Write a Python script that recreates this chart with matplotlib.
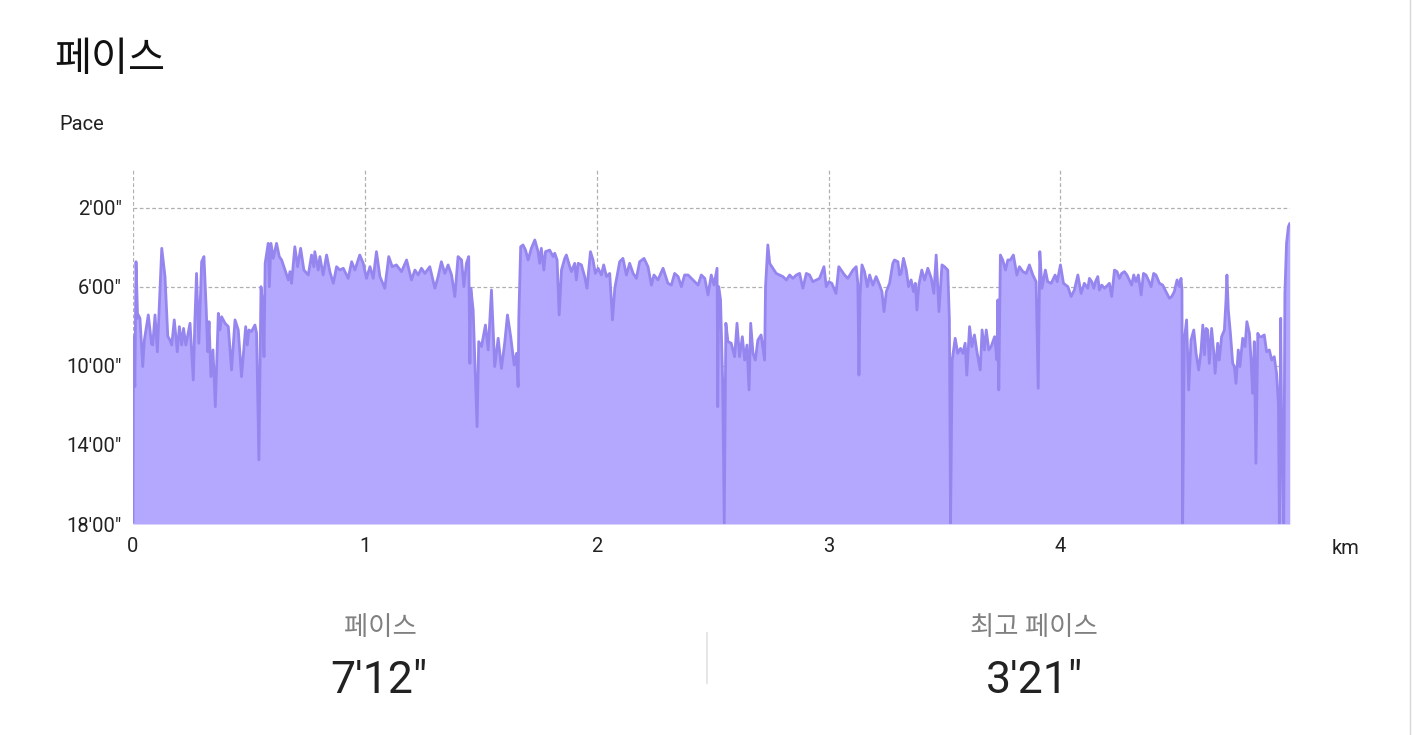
import matplotlib
matplotlib.use("Agg")
import matplotlib.pyplot as plt
from matplotlib.lines import Line2D

plt.rcParams['font.family'] = ['Roboto', 'Noto Sans CJK KR', 'DejaVu Sans']

# ---- data: distance (km) and pace (minutes per km) ----
dist_km = [
    0.000, 0.002, 0.008, 0.013, 0.020, 0.023, 0.030, 0.042, 0.049, 0.066, 0.080, 0.085, 0.095, 0.105, 0.124, 0.138,
    0.150, 0.159, 0.167, 0.178, 0.191, 0.200, 0.210, 0.218, 0.228, 0.246, 0.260, 0.267, 0.274, 0.284, 0.296, 0.306,
    0.316, 0.322, 0.328, 0.336, 0.345, 0.355, 0.368, 0.375, 0.382, 0.397, 0.411, 0.425, 0.440, 0.454, 0.468, 0.486,
    0.493, 0.500, 0.511, 0.526, 0.533, 0.543, 0.552, 0.557, 0.565, 0.570, 0.583, 0.588, 0.595, 0.605, 0.619, 0.631,
    0.641, 0.670, 0.677, 0.684, 0.698, 0.710, 0.723, 0.737, 0.756, 0.770, 0.780,
    0.784, 0.799, 0.806, 0.820, 0.835, 0.849, 0.864, 0.878, 0.892, 0.907, 0.928, 0.943, 0.957, 0.978, 0.993, 1.007,
    1.022, 1.036, 1.050, 1.065, 1.086, 1.103, 1.118, 1.136, 1.158, 1.180, 1.201, 1.216, 1.230, 1.244, 1.259, 1.280,
    1.302, 1.316, 1.330, 1.345, 1.359, 1.374, 1.388, 1.402, 1.417, 1.427, 1.438, 1.448, 1.453, 1.457, 1.467, 1.477,
    1.484, 1.491, 1.503, 1.520, 1.532, 1.546, 1.560, 1.575, 1.589, 1.603, 1.615, 1.629, 1.644,
    1.654, 1.661, 1.664, 1.672, 1.682, 1.693, 1.704, 1.718, 1.733, 1.747, 1.754, 1.761, 1.772, 1.779, 1.797, 1.812,
    1.819, 1.829, 1.838, 1.848, 1.862, 1.869, 1.884, 1.891, 1.905, 1.912, 1.920, 1.934, 1.948, 1.958, 1.973, 1.984,
    1.994, 2.006, 2.020, 2.030, 2.042, 2.056, 2.068, 2.078, 2.099, 2.113, 2.128, 2.142, 2.157, 2.171, 2.185, 2.204,
    2.221, 2.236, 2.247, 2.264, 2.286, 2.307, 2.322, 2.336, 2.351, 2.365, 2.379, 2.394, 2.415, 2.437, 2.451, 2.466,
    2.480, 2.494, 2.506, 2.519, 2.522, 2.526, 2.534, 2.543, 2.550, 2.557, 2.566, 2.580, 2.595, 2.605, 2.616, 2.628,
    2.638, 2.648, 2.657, 2.664, 2.674, 2.684, 2.695, 2.709, 2.724, 2.728, 2.738, 2.746, 2.760, 2.774, 2.789, 2.803,
    2.818, 2.832, 2.846, 2.861, 2.875, 2.889, 2.904, 2.918, 2.932, 2.947, 2.961, 2.980, 2.990, 3.001, 3.014, 3.032,
    3.044, 3.054, 3.069, 3.083, 3.105, 3.119, 3.126, 3.131, 3.136, 3.144, 3.155, 3.167, 3.177, 3.191, 3.205, 3.220,
    3.230, 3.239, 3.249, 3.263, 3.277, 3.284,
    3.299, 3.306, 3.313, 3.323, 3.335, 3.345, 3.356, 3.366, 3.374, 3.381, 3.389, 3.402, 3.414, 3.428, 3.443, 3.454,
    3.464, 3.476, 3.489, 3.500, 3.514, 3.521, 3.526, 3.533, 3.546, 3.557, 3.569, 3.579, 3.589, 3.596, 3.608, 3.618,
    3.629, 3.641, 3.654, 3.662, 3.672, 3.680, 3.691, 3.701, 3.716, 3.726, 3.730, 3.734, 3.741, 3.751, 3.763, 3.773,
    3.784, 3.797, 3.812, 3.823, 3.838, 3.852, 3.866, 3.881, 3.895, 3.904, 3.911, 3.920, 3.935, 3.945, 3.960, 3.977,
    3.986, 4.000, 4.013, 4.032, 4.046, 4.060, 4.075, 4.089, 4.103,
    4.118, 4.125, 4.135, 4.144, 4.151, 4.161, 4.168, 4.178, 4.190, 4.204, 4.211, 4.221, 4.233, 4.244, 4.254, 4.264,
    4.276, 4.287, 4.297, 4.307, 4.316, 4.326, 4.336, 4.348, 4.358, 4.369, 4.379, 4.391, 4.402, 4.412, 4.427, 4.441,
    4.455, 4.470, 4.480, 4.491, 4.503, 4.513, 4.520, 4.524, 4.527, 4.534, 4.544, 4.553, 4.563, 4.575, 4.585, 4.596,
    4.606, 4.614, 4.621, 4.628, 4.635, 4.642, 4.652, 4.661, 4.667, 4.678, 4.685, 4.695, 4.707, 4.714, 4.718, 4.724,
    4.733, 4.743, 4.750, 4.757, 4.767, 4.774, 4.786, 4.796, 4.804, 4.815, 4.822, 4.829, 4.836, 4.843, 4.851, 4.858,
    4.868, 4.879, 4.889, 4.901, 4.911, 4.922, 4.932, 4.940, 4.944, 4.950, 4.955, 4.963, 4.968, 4.975, 4.983, 4.989,
]
pace_min = [
    17.90, 8.53, 11.05, 4.74, 7.60, 7.43, 7.60, 10.04, 8.70, 7.43, 8.90, 8.95, 7.43, 9.29, 4.06, 5.49,
    8.50, 8.70, 8.95, 7.68, 9.29, 8.02, 8.95, 8.11, 8.95, 7.85, 10.72, 7.68, 5.33, 8.86, 4.74, 4.48,
    7.18, 9.29, 7.77, 10.55, 9.20, 12.07, 7.35, 8.19, 7.52, 7.85, 8.02, 10.21, 7.68, 8.19, 10.55, 8.02,
    8.95, 8.19, 8.27, 7.94, 8.36, 14.76, 6.00, 6.59, 9.54, 4.82, 3.81, 6.00, 3.81, 4.57, 3.81, 4.48,
    4.65, 5.66, 5.24, 5.83, 3.98, 4.99, 4.06, 5.16, 5.41, 4.40, 4.99,
    4.23, 5.16, 4.48, 5.41, 4.40, 5.24, 5.83, 4.99, 5.16, 5.07, 5.58, 4.74, 5.16, 4.40, 4.82, 5.58,
    4.99, 5.58, 4.23, 5.49, 6.08, 4.48, 4.99, 4.90, 5.24, 4.65, 5.66, 5.16, 5.41, 5.07, 5.33, 4.99,
    6.08, 5.49, 4.74, 5.33, 4.90, 5.41, 6.50, 4.48, 4.65, 6.00, 4.82, 4.48, 9.88, 6.08, 7.18, 10.72,
    13.08, 8.78, 9.03, 7.94, 9.20, 6.17, 10.04, 8.61, 10.13, 8.86, 7.43, 8.53, 9.96,
    9.37, 11.05, 7.52, 3.98, 3.89, 4.15, 4.65, 4.06, 3.64, 4.23, 4.82, 4.06, 5.16, 4.23, 4.15, 4.48,
    4.31, 4.65, 7.43, 5.16, 4.57, 4.40, 4.99, 5.24, 4.82, 5.66, 4.82, 4.90, 5.49, 6.08, 4.23, 4.65,
    5.33, 5.07, 5.41, 4.90, 5.49, 5.33, 7.68, 6.08, 4.74, 4.57, 5.41, 4.82, 5.33, 5.58, 4.74, 4.57,
    4.99, 5.92, 5.41, 5.66, 5.07, 5.83, 5.92, 5.33, 5.49, 6.00, 5.41, 5.41, 5.66, 5.92, 5.41, 5.58,
    6.42, 5.41, 5.92, 5.07, 12.07, 6.00, 6.67, 10.72, 17.96, 7.85, 8.78, 8.86, 9.54, 7.85, 9.54, 8.53,
    9.71, 8.95, 11.22, 7.85, 9.37, 9.71, 8.70, 8.44, 9.71, 6.00, 3.89, 4.82, 5.07, 5.33, 5.41, 5.49,
    5.66, 5.41, 5.58, 5.41, 5.33, 6.08, 5.33, 5.41, 5.75, 5.66, 5.58, 4.99, 6.00, 5.75, 5.83, 6.34,
    4.99, 5.16, 5.41, 5.58, 5.16, 4.99, 5.83, 10.47, 6.34, 4.90, 5.24, 6.00, 5.41, 5.92, 5.49, 5.92,
    6.25, 7.26, 6.25, 5.83, 4.82, 4.65,
    4.74, 5.41, 5.33, 4.57, 5.16, 6.00, 5.66, 6.25, 5.83, 7.18, 5.92, 5.16, 5.66, 5.07, 5.58, 6.34,
    4.40, 7.26, 4.90, 4.99, 5.16, 7.68, 17.96, 9.71, 8.61, 9.37, 9.12, 9.37, 8.86, 10.47, 8.02, 9.03,
    8.44, 9.37, 10.21, 8.19, 9.20, 8.19, 9.20, 9.03, 8.53, 9.71, 6.67, 11.22, 4.40, 4.65, 5.16, 4.65,
    4.65, 4.40, 5.41, 4.99, 5.24, 5.33, 4.90, 5.41, 5.75, 11.14, 4.23, 6.08, 5.16, 5.75, 5.83, 5.41,
    5.75, 4.90, 5.83, 6.00, 6.50, 6.17, 5.41, 6.34, 5.83,
    6.08, 5.58, 5.75, 6.08, 5.75, 5.49, 6.17, 5.92, 6.08, 5.92, 5.83, 6.50, 5.16, 5.24, 5.58, 5.33,
    5.24, 5.41, 5.66, 5.92, 5.41, 5.75, 5.41, 6.42, 5.33, 5.41, 5.66, 6.00, 5.33, 5.41, 5.83, 5.92,
    6.25, 6.59, 6.50, 6.25, 5.66, 6.00, 5.58, 6.17, 17.96, 8.70, 7.68, 11.22, 8.70, 8.19, 9.37, 10.21,
    9.29, 7.94, 9.45, 8.11, 8.19, 9.88, 8.11, 9.29, 10.38, 8.86, 9.71, 8.53, 8.19, 6.67, 5.41, 7.18,
    8.36, 9.88, 10.04, 10.89, 9.20, 10.04, 8.61, 9.03, 7.77, 8.36, 9.71, 11.39, 8.78, 14.93, 8.36, 8.53,
    8.53, 8.44, 9.29, 9.20, 9.71, 9.54, 10.38, 11.90, 17.96, 7.60, 14.43, 17.96, 6.34, 3.81, 2.97, 2.80,
]

y_ticks = [2, 6, 10, 14, 18]
y_tick_labels = ["2'00\"", "6'00\"", "10'00\"", "14'00\"", "18'00\""]
x_ticks = [0, 1, 2, 3, 4]
x_tick_labels = ["0", "1", "2", "3", "4"]

title = "페이스"
stat_labels = ["페이스", "최고 페이스"]
stat_values = ["7'12\"", "3'21\""]

W, H = 1414, 735
fig = plt.figure(figsize=(W / 100, H / 100), dpi=100)
fig.patch.set_facecolor('white')

def fx(px):
    return px / W

def fy(py):
    return 1 - py / H

ax = fig.add_axes([fx(133), fy(524), fx(1290) - fx(133), fy(168) - fy(524)])

fill_color = '#b3a8fd'
line_color = '#9585ef'
ax.fill_between(dist_km, pace_min, 18, color=fill_color, linewidth=0, zorder=2)
ax.plot(dist_km, pace_min, color=line_color, linewidth=2.0, zorder=3,
        solid_joinstyle='round', solid_capstyle='round')

ax.set_xlim(0, 4.99)
ax.set_ylim(18, 0)
ax.set_yticks(y_ticks)
ax.set_yticklabels(y_tick_labels)
ax.set_xticks(x_ticks)
ax.set_xticklabels(x_tick_labels)
ax.tick_params(axis='both', length=0, labelsize=14.5, colors='#222222')
ax.tick_params(axis='y', pad=8)
ax.tick_params(axis='x', pad=9)

for s in ax.spines.values():
    s.set_visible(False)

grid_kw = dict(color='#b0b0b0', linestyle=(0, (3, 2)), linewidth=0.9, zorder=1)
for yv in y_ticks:
    ax.axhline(yv, **grid_kw)
for xv in x_ticks:
    ax.axvline(xv, **grid_kw)
ax.set_facecolor('white')

fig.text(fx(54), fy(60), title, fontsize=29, color='#111111', ha='left', va='center')
fig.text(fx(59), fy(124), "Pace", fontsize=14.5, color='#222222', ha='left', va='center')
fig.text(fx(1332), fy(548), "km", fontsize=14.5, color='#222222', ha='left', va='center')

fig.text(fx(380), fy(628), stat_labels[0], fontsize=19, color='#808080', ha='center', va='center')
fig.text(fx(1034), fy(628), stat_labels[1], fontsize=19, color='#808080', ha='center', va='center')
fig.text(fx(379), fy(681), stat_values[0], fontsize=32, color='#222222', ha='center', va='center')
fig.text(fx(1034), fy(681), stat_values[1], fontsize=32, color='#222222', ha='center', va='center')

fig.add_artist(Line2D([fx(707), fx(707)], [fy(633), fy(683)], color='#e2e2e2', linewidth=1.2))
fig.add_artist(Line2D([fx(1410), fx(1410)], [fy(0), fy(735)], color='#d8d8d8', linewidth=1.0))

fig.savefig('out.png', dpi=100)
